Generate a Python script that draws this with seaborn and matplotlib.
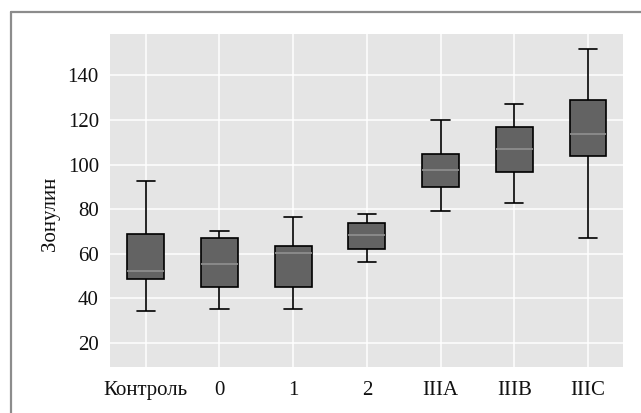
import numpy as np
import pandas as pd
import matplotlib
matplotlib.use("Agg")
import matplotlib.pyplot as plt
from matplotlib.lines import Line2D
import seaborn as sns

# Groups and five-number summaries of zonulin per group
groups = ["Контроль", "0", "1", "2", "IIIA", "IIIB", "IIIC"]
whisker_low = [34.4, 35.3, 35.3, 56.2, 79.0, 82.6, 67.0]
q1 = [48.8, 45.2, 45.2, 61.9, 89.9, 96.5, 104.0]
median = [52.3, 55.2, 60.1, 68.5, 97.4, 107.0, 113.6]
q3 = [68.8, 67.0, 63.3, 73.9, 104.9, 116.9, 129.0]
whisker_high = [92.5, 70.0, 76.6, 77.9, 120.0, 127.3, 151.9]
y_ticks = [20, 40, 60, 80, 100, 120, 140]

# Long-form table: five values per group reproduce the summary exactly
rows = []
for g, a, b, c, d, e in zip(groups, whisker_low, q1, median, q3, whisker_high):
    for v in (a, b, c, d, e):
        rows.append({"group": g, "value": v})
df = pd.DataFrame(rows)

sns.set_theme(style="darkgrid", rc={
    "axes.facecolor": "#E5E5E5",
    "grid.color": "white",
    "grid.linewidth": 1.1,
    "axes.edgecolor": "none",
})
plt.rcParams["font.family"] = ["Liberation Serif", "DejaVu Serif"]

fig = plt.figure(figsize=(6.41, 4.13), dpi=100)
ax = fig.add_axes([110 / 641, 1 - 367 / 413, 513 / 641, 333 / 413])

sns.boxplot(
    data=df, x="group", y="value", order=groups, ax=ax,
    color="#636363", saturation=1, linecolor="black", linewidth=1.2,
    width=0.5, whis=(0, 100),
    medianprops=dict(color="#8c8c8c", linewidth=1.3),
)

ax.set_xlim(-0.485, 6.475)
ax.set_ylim(9.1, 158.6)
ax.set_yticks(y_ticks)
ax.set_axisbelow(True)
ax.grid(True, axis="both", color="white", linewidth=1.1)
ax.set_xlabel("")
ax.set_ylabel("Зонулин", fontsize=15, color="#111111")
ax.yaxis.set_label_coords(-0.098, 0.461)
ax.tick_params(axis="both", length=0, labelsize=15, labelcolor="#111111")
ax.tick_params(axis="y", pad=8)
ax.tick_params(axis="x", pad=10)
for s in ax.spines.values():
    s.set_visible(False)

# Gray frame along the top and left edges of the figure
frame_kw = dict(color="#8c8c8c", linewidth=1.6, transform=fig.transFigure)
fig.add_artist(Line2D([10.5 / 641, 1], [1 - 11.5 / 413, 1 - 11.5 / 413], **frame_kw))
fig.add_artist(Line2D([10.5 / 641, 10.5 / 641], [0, 1 - 11.5 / 413], **frame_kw))

fig.savefig("out.png", dpi=100)
